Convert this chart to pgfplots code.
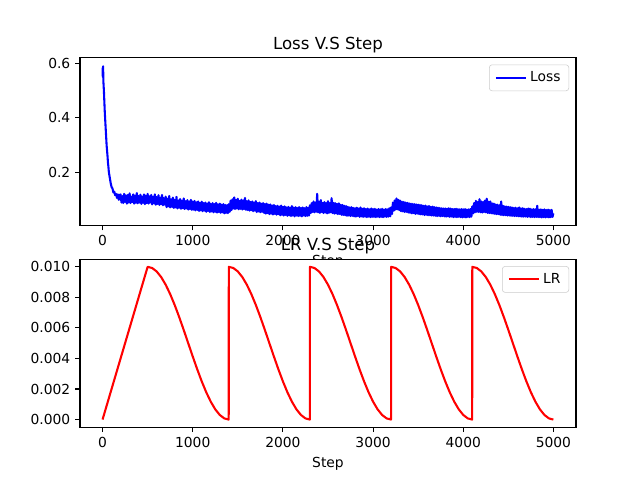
\documentclass[border=0pt]{standalone}
\usepackage{fontspec}
\setmainfont{DejaVu Sans}
\usepackage{pgfplots}
\pgfplotsset{compat=1.18}
\begin{document}
\begin{tikzpicture}
\pgfplotsset{
  mpl/.style={
    scale only axis,
    width=4.96in, height=1.68in,
    anchor=south west,
    xmin=-250, xmax=5250,
    xtick={0,1000,2000,3000,4000,5000},
    tick align=outside,
    major tick length=3.5pt,
    every tick/.style={black, line width=0.8pt},
    axis line style={line width=0.8pt},
    xtick pos=bottom, ytick pos=left,
    /pgf/number format/assume math mode=true,
    /pgf/number format/1000 sep={},
    tick label style={font=\fontsize{10}{12}\selectfont},
    title style={font=\fontsize{12}{14}\selectfont, at={(0.5,1)}, anchor=base, inner sep=0pt},
    xlabel style={font=\fontsize{10}{12}\selectfont},
    legend style={at={(1,1)}, xshift=-5pt, yshift=-5pt, anchor=north east,
      draw=black!20, rounded corners=2pt, font=\fontsize{10}{12}\selectfont,
      inner xsep=4pt, inner ysep=3pt},
    legend image code/.code={\draw[#1] (0pt,0pt) -- (22pt,0pt);},
    axis background/.style={fill=white},
  }
}
\path[use as bounding box] (0,0) rectangle (6.4in,4.8in);
\begin{axis}[mpl, at={(0.8in,2.544in)},
  ymin=0.003, ymax=0.622,
  ytick={0.2,0.4,0.6},
  yticklabel style={/pgf/number format/fixed, /pgf/number format/precision=1},
  title={Loss V.S Step}, xlabel={Step}]
\addplot[blue, line width=1.5pt, line join=round] coordinates {
(0,0.585)(3,0.55)(6,0.59)(10,0.53)(15,0.50)(20,0.46)(25,0.42)(30,0.39)(35,0.36)(40,0.33)
(45,0.30)(50,0.28)(55,0.26)(60,0.235)(65,0.22)(70,0.20)(80,0.18)(90,0.16)(100,0.145)(110,0.14)
(120,0.125)(130,0.128)(140,0.115)(150,0.12)(160,0.105)(170,0.118)(180,0.098)(190,0.115)
(200,0.118)(210,0.088)(220,0.112)(230,0.086)(240,0.120)(250,0.090)(260,0.114)(270,0.084)(280,0.116)(290,0.088)
(300,0.122)(310,0.086)(320,0.110)(330,0.090)(340,0.118)(350,0.084)(360,0.113)(370,0.087)(380,0.123)(390,0.085)
(400,0.112)(410,0.088)(420,0.117)(430,0.083)(440,0.110)(450,0.087)(460,0.118)(470,0.082)(480,0.113)(490,0.086)
(500,0.120)(510,0.084)(520,0.111)(530,0.088)(540,0.116)(550,0.081)(560,0.109)(570,0.085)(580,0.118)(590,0.080)
(600,0.108)(610,0.083)(620,0.115)(630,0.079)(640,0.106)(650,0.082)(660,0.116)(670,0.078)(680,0.104)(690,0.080)
(700,0.110)(710,0.071)(720,0.102)(730,0.074)(740,0.112)(750,0.070)(760,0.100)(770,0.072)(780,0.106)(790,0.068)
(800,0.098)(810,0.070)(820,0.109)(830,0.066)(840,0.096)(850,0.069)(860,0.101)(870,0.065)(880,0.095)(890,0.067)
(900,0.103)(910,0.064)(920,0.093)(930,0.066)(940,0.097)(950,0.062)(960,0.092)(970,0.064)(980,0.098)(990,0.061)
(1000,0.091)(1010,0.062)(1020,0.094)(1030,0.059)(1040,0.089)(1050,0.061)(1060,0.092)(1070,0.057)(1080,0.087)(1090,0.059)
(1100,0.091)(1110,0.056)(1120,0.086)(1130,0.058)(1140,0.088)(1150,0.054)(1160,0.084)(1170,0.057)(1180,0.089)(1190,0.053)
(1200,0.083)(1210,0.055)(1220,0.086)(1230,0.052)(1240,0.082)(1250,0.054)(1260,0.087)(1270,0.051)(1280,0.081)(1290,0.053)
(1300,0.084)(1310,0.050)(1320,0.080)(1330,0.052)(1340,0.082)(1350,0.048)(1360,0.079)(1370,0.050)(1380,0.078)(1390,0.049)
(1400,0.082)(1410,0.054)(1420,0.095)(1430,0.060)(1440,0.100)(1450,0.066)(1460,0.107)(1470,0.064)(1480,0.098)(1490,0.066)
(1500,0.102)(1510,0.063)(1520,0.094)(1530,0.065)(1540,0.099)(1550,0.062)(1560,0.096)(1570,0.064)(1580,0.105)(1590,0.061)
(1600,0.093)(1610,0.060)(1620,0.096)(1630,0.058)(1640,0.090)(1650,0.060)(1660,0.092)(1670,0.056)(1680,0.088)(1690,0.058)
(1700,0.093)(1710,0.053)(1720,0.086)(1730,0.055)(1740,0.088)(1750,0.052)(1760,0.084)(1770,0.054)(1780,0.086)(1790,0.050)
(1800,0.082)(1810,0.047)(1820,0.084)(1830,0.049)(1840,0.080)(1850,0.045)(1860,0.081)(1870,0.047)(1880,0.077)(1890,0.044)
(1900,0.079)(1910,0.046)(1920,0.075)(1930,0.043)(1940,0.076)(1950,0.045)(1960,0.073)(1970,0.041)(1980,0.077)(1990,0.043)
(2000,0.072)(2010,0.040)(2020,0.074)(2030,0.042)(2040,0.070)(2050,0.039)(2060,0.072)(2070,0.041)(2080,0.069)(2090,0.038)
(2100,0.075)(2110,0.040)(2120,0.069)(2130,0.037)(2140,0.071)(2150,0.040)(2160,0.068)(2170,0.038)(2180,0.071)(2190,0.039)
(2200,0.068)(2210,0.037)(2220,0.070)(2230,0.040)(2240,0.067)(2250,0.038)(2260,0.071)(2270,0.039)(2280,0.069)(2290,0.040)
(2300,0.078)(2310,0.050)(2320,0.086)(2330,0.053)(2340,0.092)(2350,0.052)(2360,0.088)(2370,0.054)(2380,0.120)(2390,0.052)
(2400,0.090)(2410,0.050)(2420,0.097)(2430,0.053)(2440,0.087)(2450,0.049)(2460,0.090)(2470,0.051)(2480,0.086)(2490,0.048)
(2500,0.093)(2510,0.050)(2520,0.086)(2530,0.052)(2540,0.104)(2550,0.049)(2560,0.087)(2570,0.047)(2580,0.086)(2590,0.048)
(2600,0.083)(2610,0.045)(2620,0.085)(2630,0.046)(2640,0.080)(2650,0.043)(2660,0.079)(2670,0.042)(2680,0.076)(2690,0.041)
(2700,0.075)(2710,0.039)(2720,0.072)(2730,0.040)(2740,0.070)(2750,0.038)(2760,0.071)(2770,0.039)(2780,0.068)(2790,0.037)
(2800,0.067)(2810,0.036)(2820,0.069)(2830,0.038)(2840,0.066)(2850,0.035)(2860,0.070)(2870,0.037)(2880,0.065)(2890,0.035)
(2900,0.067)(2910,0.036)(2920,0.064)(2930,0.034)(2940,0.066)(2950,0.036)(2960,0.063)(2970,0.034)(2980,0.066)(2990,0.035)
(3000,0.064)(3010,0.035)(3020,0.065)(3030,0.034)(3040,0.062)(3050,0.036)(3060,0.064)(3070,0.034)(3080,0.063)(3090,0.035)
(3100,0.065)(3110,0.034)(3120,0.062)(3130,0.036)(3140,0.064)(3150,0.035)(3160,0.063)(3170,0.036)(3180,0.067)(3190,0.037)
(3200,0.070)(3210,0.046)(3220,0.088)(3230,0.058)(3240,0.096)(3250,0.062)(3260,0.103)(3270,0.063)(3280,0.098)(3290,0.060)
(3300,0.095)(3310,0.056)(3320,0.091)(3330,0.055)(3340,0.090)(3350,0.053)(3360,0.088)(3370,0.054)(3380,0.087)(3390,0.051)
(3400,0.085)(3410,0.050)(3420,0.084)(3430,0.048)(3440,0.083)(3450,0.049)(3460,0.082)(3470,0.046)(3480,0.081)(3490,0.047)
(3500,0.080)(3510,0.045)(3520,0.079)(3530,0.044)(3540,0.078)(3550,0.044)(3560,0.076)(3570,0.042)(3580,0.077)(3590,0.043)
(3600,0.074)(3610,0.041)(3620,0.075)(3630,0.041)(3640,0.072)(3650,0.040)(3660,0.073)(3670,0.040)(3680,0.071)(3690,0.039)
(3700,0.070)(3710,0.038)(3720,0.069)(3730,0.039)(3740,0.068)(3750,0.037)(3760,0.067)(3770,0.038)(3780,0.066)(3790,0.037)
(3800,0.066)(3810,0.036)(3820,0.065)(3830,0.037)(3840,0.067)(3850,0.035)(3860,0.066)(3870,0.036)(3880,0.064)(3890,0.034)
(3900,0.064)(3910,0.035)(3920,0.065)(3930,0.034)(3940,0.064)(3950,0.035)(3960,0.063)(3970,0.034)(3980,0.064)(3990,0.033)
(4000,0.063)(4010,0.034)(4020,0.064)(4030,0.033)(4040,0.062)(4050,0.035)(4060,0.063)(4070,0.034)(4080,0.064)(4090,0.036)
(4100,0.074)(4110,0.048)(4120,0.086)(4130,0.052)(4140,0.094)(4150,0.054)(4160,0.090)(4170,0.053)(4180,0.100)(4190,0.052)
(4200,0.092)(4210,0.051)(4220,0.090)(4230,0.053)(4240,0.095)(4250,0.052)(4260,0.102)(4270,0.050)(4280,0.091)(4290,0.049)
(4300,0.092)(4310,0.048)(4320,0.085)(4330,0.047)(4340,0.084)(4350,0.046)(4360,0.081)(4370,0.045)(4380,0.080)(4390,0.045)
(4400,0.078)(4410,0.043)(4420,0.092)(4430,0.042)(4440,0.076)(4450,0.041)(4460,0.074)(4470,0.041)(4480,0.073)(4490,0.040)
(4500,0.072)(4510,0.040)(4520,0.071)(4530,0.039)(4540,0.070)(4550,0.039)(4560,0.068)(4570,0.038)(4580,0.069)(4590,0.038)
(4600,0.067)(4610,0.037)(4620,0.070)(4630,0.037)(4640,0.066)(4650,0.036)(4660,0.067)(4670,0.036)(4680,0.065)(4690,0.036)
(4700,0.064)(4710,0.035)(4720,0.066)(4730,0.036)(4740,0.065)(4750,0.034)(4760,0.063)(4770,0.035)(4780,0.064)(4790,0.034)
(4800,0.063)(4810,0.035)(4820,0.076)(4830,0.034)(4840,0.062)(4850,0.034)(4860,0.063)(4870,0.033)(4880,0.061)(4890,0.034)
(4900,0.063)(4910,0.033)(4920,0.061)(4930,0.034)(4940,0.062)(4950,0.033)(4960,0.060)(4970,0.034)(4980,0.061)(4990,0.035)
(4999,0.048)
};
\addlegendentry{Loss}
\end{axis}
\begin{axis}[mpl, at={(0.8in,0.528in)},
  ymin=-0.0005, ymax=0.0105,
  ytick={0,0.002,0.004,0.006,0.008,0.01},
  scaled y ticks=false,
  yticklabel style={/pgf/number format/fixed, /pgf/number format/fixed zerofill, /pgf/number format/precision=3},
  title={LR V.S Step}, xlabel={Step}]
\addplot[red, line width=1.5pt, line join=round] coordinates {
(0,0)(500,0.0100000)
(550,0.0099240)(600,0.0096985)(650,0.0093301)(700,0.0088302)(750,0.0082139)(800,0.0075000)(850,0.0067101)(900,0.0058682)(950,0.0050000)
(1000,0.0041318)(1050,0.0032899)(1100,0.0025000)(1150,0.0017861)(1200,0.0011698)(1250,0.0006699)(1300,0.0003015)(1350,0.0000760)(1399,0.0000000)
(1400,0.0100000)(1450,0.0099240)(1500,0.0096985)(1550,0.0093301)(1600,0.0088302)(1650,0.0082139)(1700,0.0075000)(1750,0.0067101)(1800,0.0058682)(1850,0.0050000)
(1900,0.0041318)(1950,0.0032899)(2000,0.0025000)(2050,0.0017861)(2100,0.0011698)(2150,0.0006699)(2200,0.0003015)(2250,0.0000760)(2299,0.0000000)
(2300,0.0100000)(2350,0.0099240)(2400,0.0096985)(2450,0.0093301)(2500,0.0088302)(2550,0.0082139)(2600,0.0075000)(2650,0.0067101)(2700,0.0058682)(2750,0.0050000)
(2800,0.0041318)(2850,0.0032899)(2900,0.0025000)(2950,0.0017861)(3000,0.0011698)(3050,0.0006699)(3100,0.0003015)(3150,0.0000760)(3199,0.0000000)
(3200,0.0100000)(3250,0.0099240)(3300,0.0096985)(3350,0.0093301)(3400,0.0088302)(3450,0.0082139)(3500,0.0075000)(3550,0.0067101)(3600,0.0058682)(3650,0.0050000)
(3700,0.0041318)(3750,0.0032899)(3800,0.0025000)(3850,0.0017861)(3900,0.0011698)(3950,0.0006699)(4000,0.0003015)(4050,0.0000760)(4099,0.0000000)
(4100,0.0100000)(4150,0.0099240)(4200,0.0096985)(4250,0.0093301)(4300,0.0088302)(4350,0.0082139)(4400,0.0075000)(4450,0.0067101)(4500,0.0058682)(4550,0.0050000)
(4600,0.0041318)(4650,0.0032899)(4700,0.0025000)(4750,0.0017861)(4800,0.0011698)(4850,0.0006699)(4900,0.0003015)(4950,0.0000760)(4999,0.0000000)
};
\addlegendentry{LR}
\end{axis}
\end{tikzpicture}
\end{document}
